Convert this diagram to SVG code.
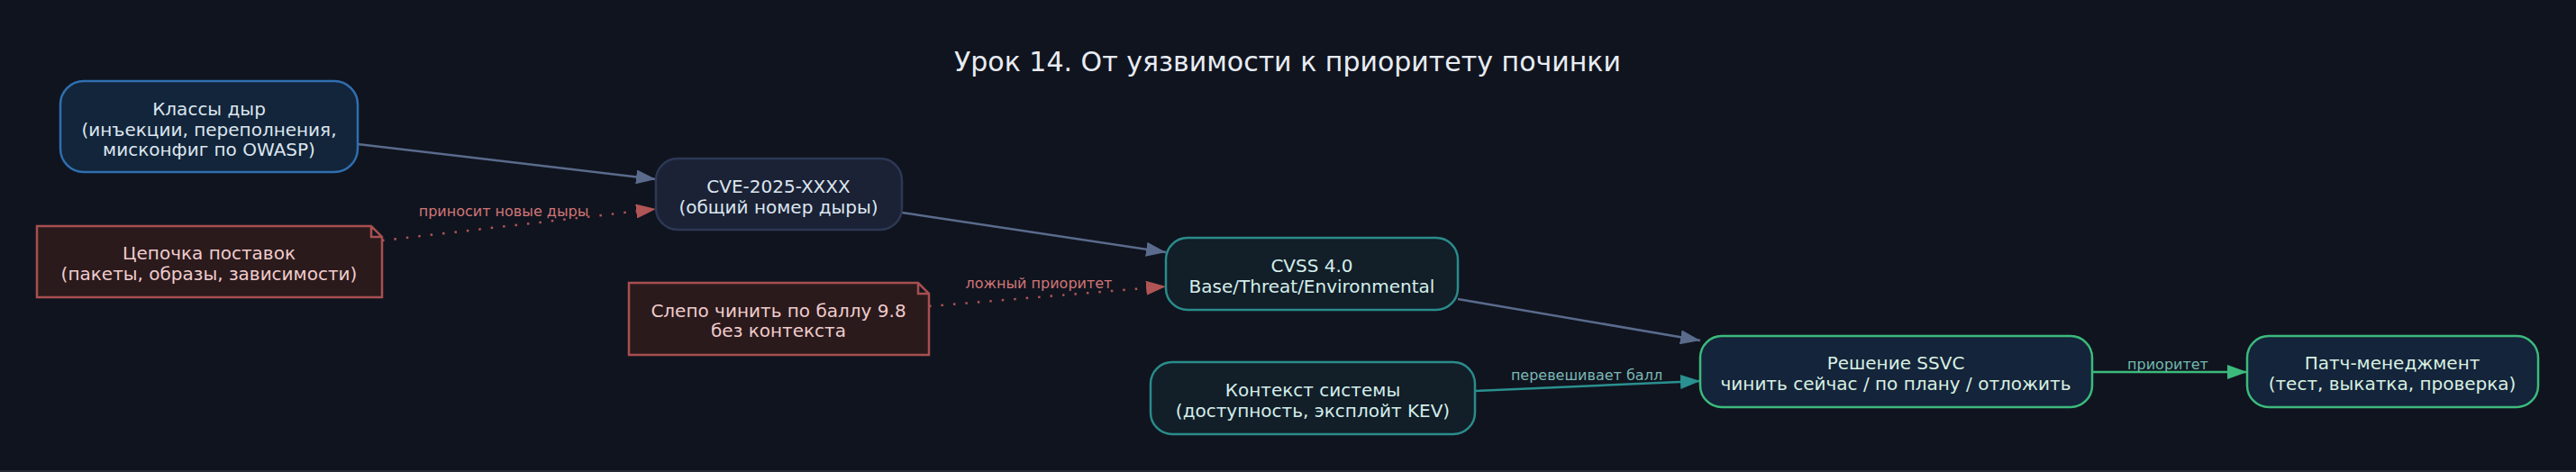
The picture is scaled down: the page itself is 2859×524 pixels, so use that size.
<svg xmlns="http://www.w3.org/2000/svg" width="2859" height="524" viewBox="0 0 2859 524">
<style>
text{font-family:"DejaVu Sans",Verdana,sans-serif;text-anchor:middle}
.t{font-size:20px}
.lbl{font-size:16px}
.title{font-size:30px;fill:#e8ecf2}
.blue{fill:#13253a;stroke:#2f6fb0;stroke-width:2.5}
.slate{fill:#1b2235;stroke:#2c3854;stroke-width:2.5}
.note{fill:#2a1a1c;stroke:#a84f4f;stroke-width:2.5}
.teal{fill:#121e28;stroke:#2a8c8a;stroke-width:2.5}
.green{fill:#14243a;stroke:#3cba7c;stroke-width:2.5}
.tb{fill:#dce6f0}
.tr{fill:#f0cccc}
.tt{fill:#d4eeec}
.tg{fill:#d8f0e2}
.e{fill:none;stroke-width:2.5}
.es{stroke:#5a6b8c}
.er{stroke:#b05555;stroke-dasharray:2.5 11}
.et{stroke:#2a9090}
.eg{stroke:#3cba7c}
</style>
<defs>
<marker id="as" markerUnits="userSpaceOnUse" markerWidth="22" markerHeight="16" refX="22" refY="8" orient="auto"><path d="M0,0 L22,8 L0,16 z" fill="#5a6b8c"/></marker>
<marker id="ar" markerUnits="userSpaceOnUse" markerWidth="22" markerHeight="16" refX="22" refY="8" orient="auto"><path d="M0,0 L22,8 L0,16 z" fill="#b05555"/></marker>
<marker id="at" markerUnits="userSpaceOnUse" markerWidth="22" markerHeight="16" refX="22" refY="8" orient="auto"><path d="M0,0 L22,8 L0,16 z" fill="#2a9090"/></marker>
<marker id="ag" markerUnits="userSpaceOnUse" markerWidth="22" markerHeight="16" refX="22" refY="8" orient="auto"><path d="M0,0 L22,8 L0,16 z" fill="#3cba7c"/></marker>
</defs>
<rect width="2859" height="524" fill="#10141f"/>
<rect x="0" y="522" width="2859" height="2" fill="#262a33"/>
<text class="title" x="1429" y="79">Урок 14. От уязвимости к приоритету починки</text>
<g id="connectors">
<line class="e es" x1="397" y1="160" x2="728" y2="199" marker-end="url(#as)"/>
<line class="e er" x1="424" y1="267" x2="728" y2="232" marker-end="url(#ar)"/>
<text class="lbl" x="559" y="240" fill="#d07676">приносит новые дыры</text>
<line class="e es" x1="1001" y1="236" x2="1294" y2="280" marker-end="url(#as)"/>
<line class="e er" x1="1031" y1="340" x2="1294" y2="318" marker-end="url(#ar)"/>
<text class="lbl" x="1153" y="320" fill="#d07676">ложный приоритет</text>
<line class="e es" x1="1618" y1="332" x2="1887" y2="378" marker-end="url(#as)"/>
<line class="e et" x1="1637" y1="434" x2="1887" y2="423" marker-end="url(#at)"/>
<text class="lbl" x="1761" y="422" fill="#7ab8b4">перевешивает балл</text>
<line class="e eg" x1="2322" y1="413" x2="2494" y2="413" marker-end="url(#ag)"/>
<text class="lbl" x="2406" y="410" fill="#72b8ae">приоритет</text>
</g>
<g id="classes">
<rect class="blue" x="67" y="90" width="330" height="101" rx="26"/>
<text class="t tb" x="232" y="128">Классы дыр</text>
<text class="t tb" x="232" y="151">(инъекции, переполнения,</text>
<text class="t tb" x="232" y="173">мисконфиг по OWASP)</text>
</g>
<g id="cve">
<rect class="slate" x="728" y="176" width="273" height="79" rx="24"/>
<text class="t tb" x="864" y="214">CVE-2025-XXXX</text>
<text class="t tb" x="864" y="237">(общий номер дыры)</text>
</g>
<g id="supply">
<path class="note" d="M41,251 H412 L424,263 V330 H41 Z M412,251 V263 H424"/>
<text class="t tr" x="232" y="288">Цепочка поставок</text>
<text class="t tr" x="232" y="311">(пакеты, образы, зависимости)</text>
</g>
<g id="blind">
<path class="note" d="M698,314 H1019 L1031,326 V394 H698 Z M1019,314 V326 H1031"/>
<text class="t tr" x="864" y="352">Слепо чинить по баллу 9.8</text>
<text class="t tr" x="864" y="374">без контекста</text>
</g>
<g id="cvss">
<rect class="teal" x="1294" y="264" width="324" height="80" rx="24"/>
<text class="t tt" x="1456" y="302">CVSS 4.0</text>
<text class="t tt" x="1456" y="325">Base/Threat/Environmental</text>
</g>
<g id="context">
<rect class="teal" x="1277" y="402" width="360" height="80" rx="24"/>
<text class="t tt" x="1457" y="440">Контекст системы</text>
<text class="t tt" x="1457" y="463">(доступность, эксплойт KEV)</text>
</g>
<g id="ssvc">
<rect class="green" x="1887" y="373" width="435" height="79" rx="24"/>
<text class="t tg" x="2104" y="410">Решение SSVC</text>
<text class="t tg" x="2104" y="433">чинить сейчас / по плану / отложить</text>
</g>
<g id="patch">
<rect class="green" x="2494" y="373" width="323" height="79" rx="24"/>
<text class="t tg" x="2655" y="410">Патч-менеджмент</text>
<text class="t tg" x="2655" y="433">(тест, выкатка, проверка)</text>
</g>
</svg>
